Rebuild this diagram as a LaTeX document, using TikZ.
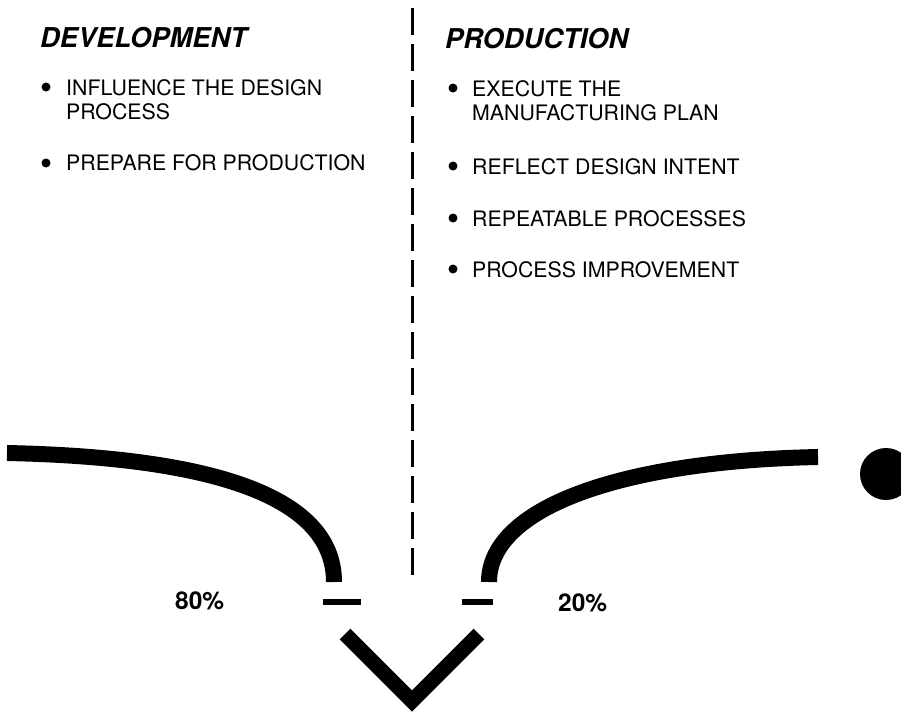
\documentclass[tikz,border=0pt]{standalone}
\usepackage{fontspec}
\setmainfont{TeX Gyre Heros}
\begin{document}
\begin{tikzpicture}[x=1pt,y=-1pt,
  heading/.style={anchor=base west,inner sep=0pt,font=\fontsize{27.3}{30}\selectfont\bfseries\itshape},
  item/.style={anchor=base west,inner sep=0pt,align=left,font=\fontsize{21.3}{24}\selectfont},
  pct/.style={anchor=base west,inner sep=0pt,font=\fontsize{24.5}{28}\selectfont\bfseries},
  dot/.style={circle,fill=black,inner sep=0pt,minimum size=9pt},
  thick curve/.style={line width=16pt,line cap=butt},
  divider/.style={line width=3pt,dash pattern=on 27pt off 9pt},
  tick/.style={line width=6.5pt},
  vee/.style={line width=15pt,line join=miter,line cap=butt}]
\clip (0,0) rectangle (901,713);
\fill[white] (0,0) rectangle (901,713);

% divider
\coordinate (dtop) at (412,8);
\coordinate (dbot) at (412,577);
\draw[divider] (dtop) -- (dbot);

% headings
\node[heading] (dev) at (40,47) {DEVELOPMENT};
\node[heading] (prod) at (445,48) {PRODUCTION};

% left bullets (multi-line nodes: base is the last line)
\node[dot] (b1) at (46,87) {};
\node[item] (t1) at (66,119) {INFLUENCE THE DESIGN\\PROCESS};
\node[dot] (b2) at (46,163) {};
\node[item] (t2) at (66,170) {PREPARE FOR PRODUCTION};

% right bullets
\node[dot] (b3) at (453,88) {};
\node[item] (t3) at (472,120) {EXECUTE THE\\MANUFACTURING PLAN};
\node[dot] (b4) at (453,166) {};
\node[item] (t4) at (472,174) {REFLECT DESIGN INTENT};
\node[dot] (b5) at (453,218) {};
\node[item] (t5) at (472,226) {REPEATABLE PROCESSES};
\node[dot] (b6) at (453,269) {};
\node[item] (t6) at (472,277) {PROCESS IMPROVEMENT};

% curves
\coordinate (lstart) at (7,453);
\coordinate (lend) at (334,582);
\draw[thick curve] (lstart) .. controls (200,457) and (334,492) .. (lend);
\coordinate (rstart) at (489,582);
\coordinate (rend) at (818,457);
\draw[thick curve] (rstart) .. controls (489,508) and (620,461) .. (rend);

% big dot
\fill (886,474) circle (26);

% ticks
\coordinate (tl1) at (323,602);
\coordinate (tl2) at (361,602);
\draw[tick] (tl1) -- (tl2);
\coordinate (tr1) at (462,602);
\coordinate (tr2) at (493,602);
\draw[tick] (tr1) -- (tr2);

% percentages
\node[pct] (p80) at (175,609) {80\%};
\node[pct] (p20) at (558,611) {20\%};

% V
\coordinate (va) at (345,634);
\coordinate (vb) at (412,701);
\coordinate (vc) at (479,634);
\draw[vee] (va) -- (vb) -- (vc);
\end{tikzpicture}
\end{document}
